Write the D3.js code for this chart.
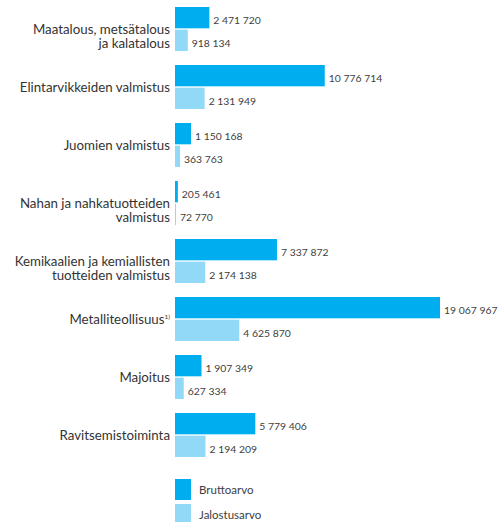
<!DOCTYPE html>
<html><head><meta charset="utf-8">
<script src="https://cdn.jsdelivr.net/npm/d3@7"></script>
<style>body{margin:0;background:#fff}svg{display:block}</style>
</head><body><div id="chart"></div>
<script>
const categories = [
  ["Maatalous, metsätalous", "ja kalatalous"],
  ["Elintarvikkeiden valmistus"],
  ["Juomien valmistus"],
  ["Nahan ja nahkatuotteiden", "valmistus"],
  ["Kemikaalien ja kemiallisten", "tuotteiden valmistus"],
  ["Metalliteollisuus"],
  ["Majoitus"],
  ["Ravitsemistoiminta"]
];
const footnotes = ["", "", "", "", "", "1)", "", ""];
const bruttoarvo = [2471720, 10776714, 1150168, 205461, 7337872, 19067967, 1907349, 5779406];
const jalostusarvo = [918134, 2131949, 363763, 72770, 2174138, 4625870, 627334, 2194209];
const seriesNames = ["Bruttoarvo", "Jalostusarvo"];
const colors = ["#00aeef", "#92d9f8"];

const W = 498, H = 522;
const svg = d3.select("#chart").append("svg").attr("width", W).attr("height", H);
const fmt = v => d3.format(",")(v).replace(/,/g, " ");

const idx = d3.range(categories.length);
const y0 = d3.scaleBand().domain(idx).range([0, 464]).paddingInner(14/58).paddingOuter(7/58);
const y1 = d3.scaleBand().domain(seriesNames).range([0, y0.bandwidth()]).paddingInner(0.06);
const x = d3.scaleLinear().domain([0, 19067967]).range([175, 440]);

const data = idx.map(i => ({i, vals: [bruttoarvo[i], jalostusarvo[i]]}));

const g = svg.selectAll("g.grp").data(data).join("g").attr("class", "grp")
  .attr("transform", d => `translate(0,${y0(d.i)})`);

g.selectAll("rect").data(d => d.vals.map((v, k) => ({v, k}))).join("rect")
  .attr("x", x(0)).attr("y", d => y1(seriesNames[d.k]))
  .attr("width", d => x(d.v) - x(0)).attr("height", y1.bandwidth())
  .attr("fill", d => colors[d.k]);

g.selectAll("text.val").data(d => d.vals.map((v, k) => ({v, k}))).join("text")
  .attr("class", "val")
  .attr("x", d => x(d.v) + 4)
  .attr("y", d => y1(seriesNames[d.k]) + y1.bandwidth() / 2 + 6.5)
  .attr("font-family", "Lato, sans-serif").attr("font-size", 10.4)
  .attr("fill", "#404040")
  .text(d => fmt(d.v));

const lab = g.append("text").attr("class", "cat")
  .attr("x", 170).attr("y", y0.bandwidth() / 2 + 4.5)
  .attr("text-anchor", "end")
  .attr("font-family", "Lato, sans-serif").attr("font-size", 13.3)
  .attr("fill", "#333");
lab.each(function(d) {
  const t = d3.select(this);
  categories[d.i].forEach((line, li) => {
    t.append("tspan").attr("x", 170).attr("dy", li === 0 ? 0 : 14.5).text(line);
  });
  if (footnotes[d.i]) {
    t.append("tspan").attr("font-size", 6.5).attr("dy", -5).text(footnotes[d.i]);
  }
});

// Legend
const leg = svg.append("g");
seriesNames.forEach((n, k) => {
  const yy = 479 + k * 25;
  leg.append("rect").attr("x", 175).attr("y", yy).attr("width", 16).attr("height", 21).attr("fill", colors[k]);
  leg.append("text").attr("x", 199).attr("y", yy + 15)
    .attr("font-family", "Lato, sans-serif").attr("font-size", 11.5).attr("fill", "#404040").text(n);
});
</script></body></html>
